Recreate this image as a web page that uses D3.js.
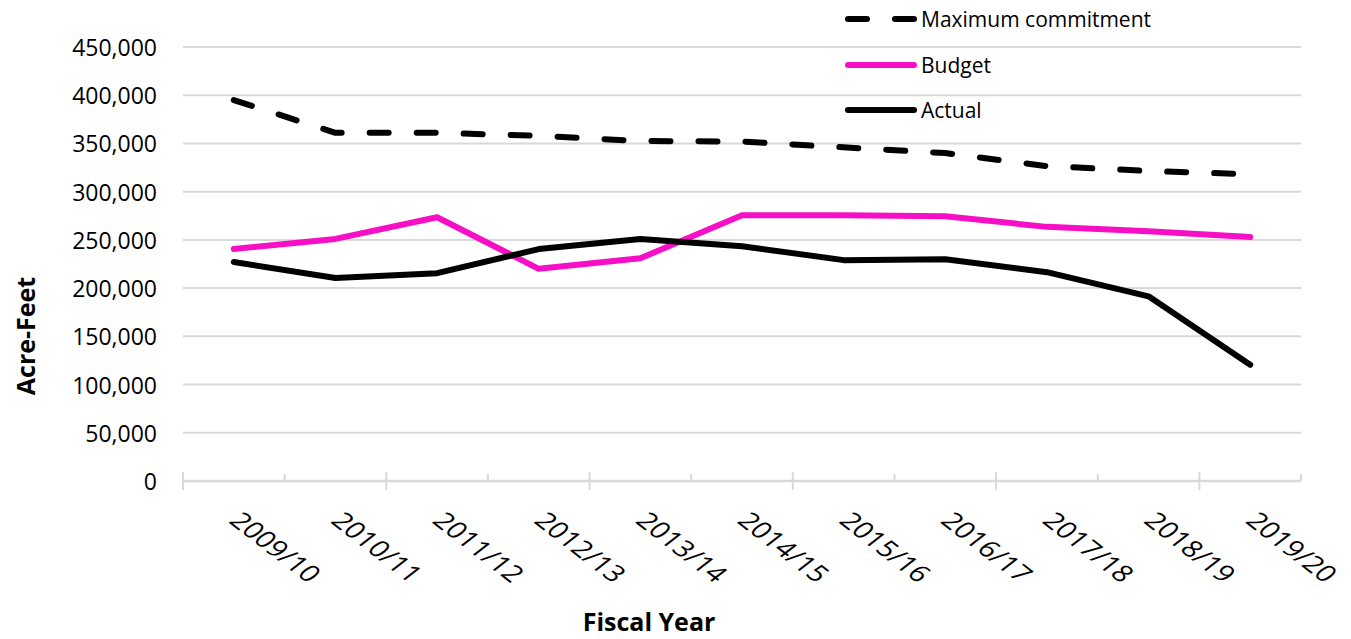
<!DOCTYPE html>
<html>
<head>
<meta charset="utf-8">
<script src="https://cdn.jsdelivr.net/npm/d3@7"></script>
<style>
  html, body { margin: 0; padding: 0; background: #fff; }
  svg { display: block; font-family: "Open Sans", sans-serif; }
</style>
</head>
<body>
<svg id="chart" width="1351" height="639"></svg>
<script>
const categories = ["2009/10","2010/11","2011/12","2012/13","2013/14","2014/15","2015/16","2016/17","2017/18","2018/19","2019/20"];
const maxCommitment = [395000, 361000, 361000, 358000, 352500, 352000, 346000, 340000, 326500, 321500, 318000];
const budget = [240500, 251000, 273500, 220000, 231000, 275500, 275500, 274500, 263500, 259000, 253000];
const actual = [227000, 210500, 215500, 240500, 251000, 243500, 229000, 230000, 216500, 191500, 120500];
const yTicks = [0, 50000, 100000, 150000, 200000, 250000, 300000, 350000, 400000, 450000];
const seriesNames = ["Maximum commitment", "Budget", "Actual"];

(function () {
const svg = d3.select("#chart");
const pLeft = 183, pRight = 1301, pTop = 47, pBottom = 481;

const x = d3.scaleBand().domain(categories).range([pLeft, pRight]).padding(0);
const bw = x.bandwidth();
const cx = c => x(c) + bw / 2;
const y = d3.scaleLinear().domain([0, 450000]).range([pBottom, pTop]);

// gridlines
svg.append("g").selectAll("line").data(yTicks.filter(d => d > 0)).join("line")
  .attr("x1", pLeft).attr("x2", pRight)
  .attr("y1", d => y(d)).attr("y2", d => y(d))
  .attr("stroke", "#d9d9d9").attr("stroke-width", 2);

// y axis labels
const fmt = d3.format(",");
svg.append("g").selectAll("text").data(yTicks).join("text")
  .attr("x", 157).attr("y", d => y(d))
  .attr("text-anchor", "end").attr("dominant-baseline", "central")
  .attr("font-size", 23).attr("fill", "#000")
  .text(d => fmt(d));

// x axis line
svg.append("line").attr("x1", pLeft).attr("x2", pRight)
  .attr("y1", y(0)).attr("y2", y(0))
  .attr("stroke", "#d9d9d9").attr("stroke-width", 2.5);

// ticks at category boundaries
const bounds = d3.range(categories.length + 1);
svg.append("g").selectAll("line").data(bounds).join("line")
  .attr("x1", i => pLeft + i * bw).attr("x2", i => pLeft + i * bw)
  .attr("y1", i => i % 2 === 0 ? y(0) - 9 : y(0) - 7)
  .attr("y2", i => i % 2 === 0 ? y(0) + 9 : y(0))
  .attr("stroke", "#d9d9d9").attr("stroke-width", 2);

// x labels
svg.append("g").selectAll("text").data(categories).join("text")
  .attr("transform", c => `translate(${cx(c) - 6},${522}) scale(1.3,1) rotate(45)`)
  .attr("text-anchor", "start")
  .attr("font-size", 23).attr("fill", "#000")
  .text(c => c);

// axis titles
svg.append("text")
  .attr("transform", "translate(35,336) rotate(-90)")
  .attr("text-anchor", "middle")
  .attr("font-size", 25).attr("font-weight", "bold").attr("fill", "#000")
  .text("Acre-Feet");
svg.append("text")
  .attr("x", 649).attr("y", 631)
  .attr("text-anchor", "middle")
  .attr("font-size", 25).attr("font-weight", "bold").attr("fill", "#000")
  .text("Fiscal Year");

// lines
const line = d3.line().x((d, i) => cx(categories[i])).y(d => y(d));
const styles = [
  { data: maxCommitment, color: "#000", dash: "19,28" },
  { data: budget, color: "#f70fc6", dash: null },
  { data: actual, color: "#000", dash: null }
];
styles.forEach(s => {
  svg.append("path").datum(s.data)
    .attr("d", line)
    .attr("fill", "none")
    .attr("stroke", s.color)
    .attr("stroke-width", 6)
    .attr("stroke-linecap", "round")
    .attr("stroke-linejoin", "round")
    .attr("stroke-dasharray", s.dash);
});

// legend
const legY = [19, 65, 110];
const lg = svg.append("g");
seriesNames.forEach((name, i) => {
  lg.append("line")
    .attr("x1", 848).attr("x2", 914)
    .attr("y1", legY[i]).attr("y2", legY[i])
    .attr("stroke", styles[i].color).attr("stroke-width", 6)
    .attr("stroke-linecap", "round")
    .attr("stroke-dasharray", styles[i].dash);
  lg.append("text")
    .attr("x", 921).attr("y", legY[i])
    .attr("dominant-baseline", "central")
    .attr("font-size", 21).attr("fill", "#000")
    .text(name);
});
})();
</script>
</body>
</html>
